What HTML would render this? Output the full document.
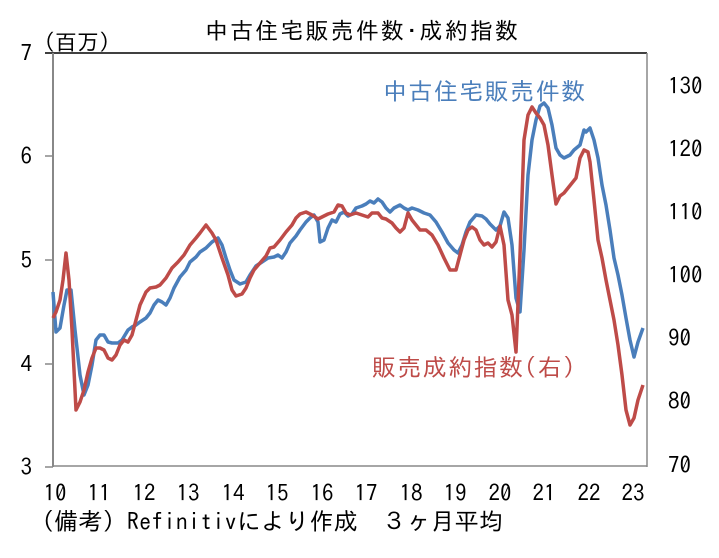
<!DOCTYPE html><html><head><meta charset="utf-8"><style>
body{margin:0;background:#fff;width:719px;height:553px;overflow:hidden}
text{font-family:"IPAGothic","Noto Sans CJK JP",sans-serif}
</style></head><body>
<svg width="719" height="553" xmlns="http://www.w3.org/2000/svg">
<rect width="719" height="553" fill="#fff"/>
<line x1="45" y1="53" x2="647" y2="53" stroke="#000" stroke-width="1.5"/>
<line x1="53" y1="53" x2="53" y2="467" stroke="#888" stroke-width="2"/>
<line x1="647" y1="53" x2="647" y2="467" stroke="#888" stroke-width="1.5"/>
<line x1="53" y1="466" x2="647" y2="466" stroke="#888" stroke-width="1.5"/>
<g stroke="#888" stroke-width="1.5"><line x1="45" y1="156" x2="53" y2="156"/><line x1="45" y1="260" x2="53" y2="260"/><line x1="45" y1="364" x2="53" y2="364"/><line x1="45" y1="467" x2="53" y2="467"/></g>
<g font-size="23" text-anchor="end" fill="#000"><text x="32" y="61">7</text><text x="32" y="164">6</text><text x="32" y="268">5</text><text x="32" y="372">4</text><text x="32" y="475">3</text></g>
<g font-size="23" fill="#000"><text x="668" y="94">130</text><text x="668" y="157">120</text><text x="668" y="220">110</text><text x="668" y="283">100</text><text x="668" y="346">90</text><text x="668" y="409">80</text><text x="668" y="473">70</text></g>
<g font-size="23" text-anchor="middle" fill="#000"><text x="55" y="501">10</text><text x="99" y="501">11</text><text x="144" y="501">12</text><text x="188" y="501">13</text><text x="233" y="501">14</text><text x="277" y="501">15</text><text x="322" y="501">16</text><text x="366" y="501">17</text><text x="411" y="501">18</text><text x="455" y="501">19</text><text x="500" y="501">20</text><text x="544" y="501">21</text><text x="589" y="501">22</text><text x="633" y="501">23</text></g>
<text x="33" y="50" font-size="22">（百万）</text>
<text x="205" y="39" font-size="23" textLength="313">中古住宅販売件数･成約指数</text>
<text x="383" y="100" font-size="24" fill="#4a7ebb" textLength="202">中古住宅販売件数</text>
<text x="372" y="376" font-size="24" fill="#be4b48" textLength="203">販売成約指数(右)</text>
<text x="30" y="530" font-size="24" textLength="473">（備考）Refinitivにより作成　３ヶ月平均</text>
<polyline fill="none" stroke="#4a7ebb" stroke-width="3.5" stroke-linejoin="round" points="53,292 56,332 60,328 64,305 67,290 71,290 75,330 80,375 84,395 88,385 92,365 96,340 100,335 104,335 108,342 112,343 118,343 122,340 128,330 132,327 136,325 140,322 146,318 150,313 154,305 158,300 162,302 166,305 170,298 174,288 180,277 186,270 190,262 196,257 200,252 206,248 212,242 218,238 222,245 226,258 230,270 234,280 240,284 246,282 250,275 256,266 262,262 268,258 274,257 278,255 282,258 286,252 290,243 296,236 300,230 306,222 310,218 314,215 318,222 320,242 324,240 328,228 332,220 336,222 340,214 344,212 348,216 352,214 356,208 362,206 366,204 370,201 374,203 378,199 382,202 386,208 390,212 394,208 400,205 404,208 408,210 412,208 418,210 424,213 430,215 436,222 442,232 448,243 454,250 458,253 462,245 466,232 470,222 476,215 482,216 486,219 490,224 494,228 496,230 500,226 504,212 508,218 512,245 516,298 520,312 524,250 528,175 532,140 536,120 540,106 544,103 548,108 552,125 556,148 560,155 564,158 570,155 574,150 580,145 584,130 586,132 590,128 594,140 598,158 602,185 606,205 610,230 614,258 618,275 622,295 626,318 630,340 634,357 638,342 643,328"/>
<polyline fill="none" stroke="#be4b48" stroke-width="3.5" stroke-linejoin="round" points="53,318 56,312 60,300 63,280 66,253 69,280 72,330 76,410 80,402 84,390 88,372 92,358 96,348 100,348 104,350 108,358 112,360 116,355 120,345 124,340 128,342 132,335 136,320 140,305 146,292 150,288 156,287 160,285 166,278 172,268 178,262 184,255 190,245 196,238 200,233 206,225 212,233 216,240 222,258 228,275 232,290 236,296 242,294 246,288 250,278 254,270 260,263 266,256 270,248 274,247 280,240 286,232 292,225 296,218 300,214 306,212 312,215 318,219 322,217 328,214 334,212 338,205 342,206 346,213 350,215 356,213 362,215 368,217 372,213 378,213 382,218 386,219 392,223 396,228 400,232 404,228 408,213 412,220 416,225 420,230 426,230 432,235 438,245 444,258 450,270 456,270 460,255 464,240 468,230 472,227 476,230 480,240 484,245 488,243 492,247 496,242 500,226 504,245 508,300 512,315 516,352 520,255 524,140 528,115 532,107 536,113 540,118 544,125 548,145 552,175 556,204 560,196 564,193 568,188 572,183 576,178 580,158 584,150 588,152 590,162 594,200 598,240 602,258 606,280 610,300 614,320 618,345 622,375 626,410 630,425 634,418 638,400 643,385"/>
</svg></body></html>
